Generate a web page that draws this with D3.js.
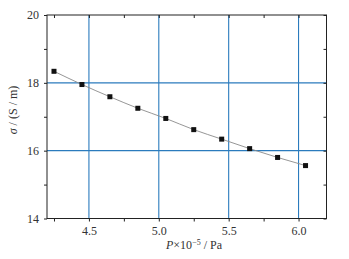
<!DOCTYPE html>
<html>
<head>
<meta charset="utf-8">
<script src="https://cdn.jsdelivr.net/npm/d3@7"></script>
<style>
  body { margin: 0; background: #fff; }
  text { font-family: "Liberation Serif", "DejaVu Serif", serif; fill: #333; }
</style>
</head>
<body>
<div id="chart"></div>
<script>
// pressure (x 10^-5 Pa) and conductivity (S/m)
var pressure = [4.25, 4.45, 4.65, 4.85, 5.05, 5.25, 5.45, 5.65, 5.85, 6.05]
var sigma = [18.34, 17.95, 17.59, 17.25, 16.95, 16.62, 16.34, 16.06, 15.80, 15.56]
var xTicks = [4.5, 5.0, 5.5, 6.0]
var yTicks = [14, 16, 18, 20]

var width = 349, height = 259
var margin = {left: 47, right: 22.5, top: 15, bottom: 40.5}
var iw = width - margin.left - margin.right
var ih = height - margin.top - margin.bottom

var svg = d3.select('#chart').append('svg')
  .attr('width', width).attr('height', height)

var g = svg.append('g').attr('transform', `translate(${margin.left},${margin.top})`)

var x = d3.scaleLinear().domain([4.2, 6.2]).range([0, iw])
var y = d3.scaleLinear().domain([14, 20]).range([ih, 0])

var gridColor = '#2b7bbd'
var axisColor = '#222'

// grid
g.selectAll('.vgrid').data(xTicks).join('line')
  .attr('x1', d => x(d)).attr('x2', d => x(d))
  .attr('y1', 0).attr('y2', ih)
  .attr('stroke', gridColor).attr('stroke-width', 1.1)

g.selectAll('.hgrid').data([16, 18]).join('line')
  .attr('y1', d => y(d)).attr('y2', d => y(d))
  .attr('x1', 0).attr('x2', iw)
  .attr('stroke', gridColor).attr('stroke-width', 1.1)

// axes: outward ticks bottom/left, inward mirror ticks top/right
var minorX = d3.range(4.25, 6.21, 0.25)
var minorY = d3.range(14, 20.01, 1)

function styleAxis(sel) {
  sel.selectAll('path').remove()
  sel.selectAll('line').attr('stroke', axisColor)
  sel.selectAll('text').attr('font-size', 12).style('font-family', '"Liberation Serif", serif').attr('fill', '#333')
}

g.append('g').attr('transform', `translate(0,${ih})`)
  .call(d3.axisBottom(x).tickValues(minorX).tickSize(3)
    .tickFormat(d => xTicks.some(t => Math.abs(t - d) < 1e-6) ? d3.format('.1f')(d) : ''))
  .call(styleAxis)
  .selectAll('text').attr('dy', '0.9em')

g.append('g')
  .call(d3.axisTop(x).tickValues(minorX).tickSize(-3).tickFormat(''))
  .call(styleAxis)

g.append('g')
  .call(d3.axisLeft(y).tickValues(minorY).tickSize(3)
    .tickFormat(d => yTicks.includes(d) ? d : ''))
  .call(styleAxis)
  .selectAll('text').attr('x', -8)

g.append('g').attr('transform', `translate(${iw},0)`)
  .call(d3.axisRight(y).tickValues(minorY).tickSize(-3).tickFormat(''))
  .call(styleAxis)

// frame
g.append('rect').attr('width', iw).attr('height', ih)
  .attr('fill', 'none').attr('stroke', axisColor).attr('stroke-width', 1)

// fit line and markers
var pts = pressure.map((p, i) => ({p, s: sigma[i]}))

g.append('path').datum(pts)
  .attr('d', d3.line().x(d => x(d.p)).y(d => y(d.s)).curve(d3.curveMonotoneX))
  .attr('fill', 'none').attr('stroke', '#8a8a8a').attr('stroke-width', 0.9)

g.selectAll('.pt').data(pts).join('rect')
  .attr('x', d => x(d.p) - 2.5).attr('y', d => y(d.s) - 2.5)
  .attr('width', 5).attr('height', 5)
  .attr('fill', '#111')

// axis titles
var xt = svg.append('text')
  .attr('x', 194).attr('y', 249)
  .attr('text-anchor', 'middle').attr('font-size', 12)
xt.append('tspan').attr('font-style', 'italic').text('P')
xt.append('tspan').text('×10')
xt.append('tspan').attr('font-size', 8).attr('dy', -4).text('−5')
xt.append('tspan').attr('dy', 4).text(' / Pa')

var yt = svg.append('text')
  .attr('transform', `translate(17,110) rotate(-90)`)
  .attr('text-anchor', 'middle').attr('font-size', 12)
yt.append('tspan').attr('font-style', 'italic').text('σ')
yt.append('tspan').text(' / (S / m)')
</script>
</body>
</html>
